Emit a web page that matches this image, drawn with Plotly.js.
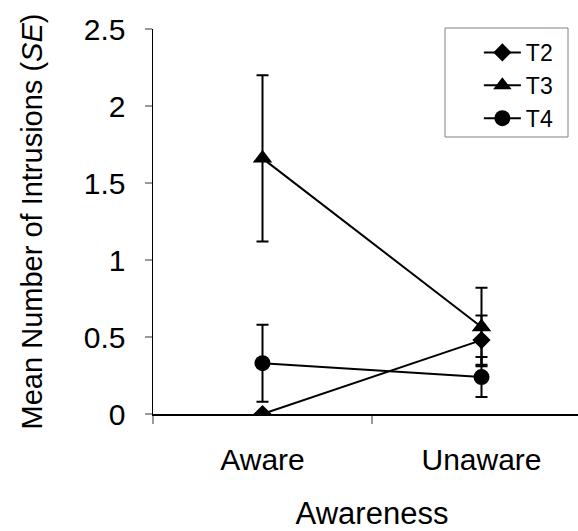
<!DOCTYPE html>
<html>
<head>
<meta charset="utf-8">
<script src="https://cdn.plot.ly/plotly-3.0.1.min.js"></script>
<style>html,body{margin:0;padding:0;background:#fff;overflow:hidden;}#chart{width:591px;height:531px;}</style>
</head>
<body>
<div id="chart"></div>
<script>
const categories = ['Aware', 'Unaware'];
const seriesNames = ['T2', 'T3', 'T4'];
const t2Values = [0, 0.48];
const t2SE = [0, 0.16];
const t3Values = [1.66, 0.565];
const t3SE = [0.54, 0.255];
const t4Values = [0.33, 0.24];
const t4SE = [0.25, 0.13];

const values = [t2Values, t3Values, t4Values];
const errors = [t2SE, t3SE, t4SE];
const symbols = ['diamond', 'triangle-up', 'circle'];
const sizes = [14, 17, 16];
const FONT = 'Liberation Sans, Arial, sans-serif';

const traces = seriesNames.map((name, i) => ({
  type: 'scatter',
  mode: 'lines+markers',
  name: name,
  x: categories,
  y: values[i],
  line: {color: '#000', width: 2},
  marker: {symbol: symbols[i], size: sizes[i], color: '#000'},
  error_y: {type: 'data', array: errors[i], visible: true, color: '#000', thickness: 2, width: 6}
}));

const layout = {
  width: 591, height: 531,
  margin: {l: 153, r: 0, t: 29, b: 117},
  paper_bgcolor: '#fff', plot_bgcolor: '#fff',
  font: {family: FONT, color: '#000', size: 29},
  showlegend: true,
  legend: {
    x: 0.744, y: 0.995, xanchor: 'left', yanchor: 'top',
    borderwidth: 0, bgcolor: 'rgba(0,0,0,0)',
    font: {family: FONT, size: 23, color: '#000'},
    itemwidth: 37
  },
  shapes: [{
    type: 'rect', xref: 'paper', yref: 'paper',
    x0: 0.6667, x1: 0.9475, y0: 0.7195, y1: 1.0026,
    line: {color: '#808080', width: 1}, fillcolor: 'rgba(0,0,0,0)'
  }],
  xaxis: {
    type: 'category',
    range: [-0.5, 1.5],
    tickson: 'boundaries',
    ticks: 'outside', ticklen: 8, tickcolor: '#999', tickwidth: 1.5,
    showline: true, linecolor: '#000', linewidth: 1.5,
    showgrid: false, zeroline: false,
    ticklabelstandoff: 18,
    tickfont: {family: FONT, size: 30, color: '#000'},
    title: {text: 'Awareness', font: {family: FONT, size: 31, color: '#000'}, standoff: 30}
  },
  yaxis: {
    range: [0, 2.5], dtick: 0.5, tick0: 0,
    ticks: 'outside', ticklen: 7, tickcolor: '#999', tickwidth: 1.5,
    showline: true, linecolor: '#000', linewidth: 1.5,
    showgrid: false, zeroline: false,
    ticklabelstandoff: 13,
    tickfont: {family: FONT, size: 30, color: '#000'},
    automargin: true,
    title: {text: 'Mean Number of Intrusions (<i>SE</i>)', font: {family: FONT, size: 29, color: '#000'}, standoff: 32}
  }
};

Plotly.newPlot('chart', traces, layout, {displayModeBar: false, staticPlot: true});
</script>
</body>
</html>
